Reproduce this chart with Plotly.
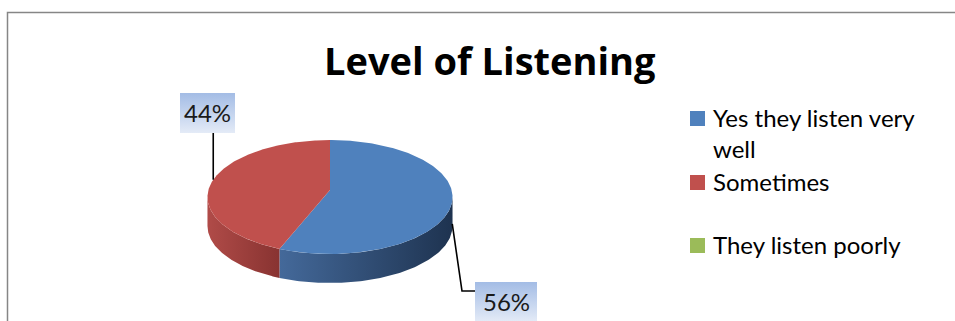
import numpy as np
import plotly.graph_objects as go

# ---- data ----
categories = ["Yes they listen very well", "Sometimes", "They listen poorly"]
legend_labels = ["Yes they listen very<br>well", "Sometimes", "They listen poorly"]
shares = [56, 44, 0]

# ---- styling ----
top_colors = ["#4F81BD", "#C0504D", "#9BBB59"]
# (left, right) shading of each slice's front wall
side_colors = [("#44699A", "#1E3350"), ("#B04B48", "#883331"), ("#7E9A48", "#5E7434")]
FONT = "Lato"

W, H = 955, 321
CX, CY = 330, 190          # pie centre (pixel-like axis units)
RX, RY = 121.6, 56.1       # ellipse radii of the tilted disc
PERSP = 0.123              # perspective strength (near half drawn larger)
DEPTH = 29                 # thickness of the 3-D disc


def project(theta_deg, drop=0.0):
    """Point on the rim of the disc at clockwise angle theta from 12 o'clock."""
    t = np.radians(theta_deg)
    u, v = np.sin(t), -np.cos(t)
    w = 1.0 / (1.0 - PERSP * v)
    return CX + RX * u * w, CY + RY * v * w + drop


# silhouette angles (where the rim is widest); the front wall lies between them
theta_r = np.degrees(np.arccos(-PERSP))
theta_l = 360.0 - theta_r

total = float(sum(shares))
spans = []
acc = 0.0
for s in shares:
    a0 = 360.0 * acc / total
    a1 = 360.0 * (acc + s) / total
    spans.append((a0, a1))
    acc += s

fig = go.Figure()

# front walls
for (a0, a1), share, (c_l, c_r) in zip(spans, shares, side_colors):
    if share <= 0:
        continue
    s, e = max(a0, theta_r), min(a1, theta_l)
    if e <= s:
        continue
    arc = np.linspace(s, e, 120)
    xt, yt = project(arc)
    xb, yb = project(arc[::-1], DEPTH)
    xs = np.concatenate([xt, xb, xt[:1]])
    ys = np.concatenate([yt, yb, yt[:1]])
    fig.add_trace(go.Scatter(
        x=xs, y=ys, mode="lines", fill="toself",
        line=dict(width=0), hoverinfo="skip", showlegend=False,
        fillgradient=dict(type="horizontal", start=float(xs.min()), stop=float(xs.max()),
                          colorscale=[[0, c_l], [1, c_r]]),
    ))

# top faces
for (a0, a1), share, col, name in zip(spans, shares, top_colors, categories):
    if share <= 0:
        continue
    arc = np.linspace(a0, a1, 240)
    xa, ya = project(arc)
    xs = np.concatenate([[CX], xa, [CX]])
    ys = np.concatenate([[CY], ya, [CY]])
    fig.add_trace(go.Scatter(
        x=xs, y=ys, mode="lines", fill="toself", fillcolor=col,
        line=dict(width=0), hoverinfo="skip", showlegend=False, name=name,
    ))

# ---- data labels with leader lines ----
label_layout = {
    # box (x0, y0, x1, y1) and the leader path from the rim anchor
    "Sometimes": dict(box=(180, 93, 235, 133), drop=0.0, elbow=None, side="up"),
    "Yes they listen very well": dict(box=(475, 282, 537, 322), drop=DEPTH * 0.8,
                                      elbow=(462, 291), side="right"),
}
for (a0, a1), share, name in zip(spans, shares, categories):
    if share <= 0 or name not in label_layout:
        continue
    lay = label_layout[name]
    ax, ay = project((a0 + a1) / 2.0, lay["drop"])
    x0, y0, x1, y1 = lay["box"]
    if lay["side"] == "up":
        lx, ly = [ax, ax], [ay, y1]
    else:
        ex, ey = lay["elbow"]
        lx, ly = [ax, ex, x0], [ay, ey, ey]
    fig.add_trace(go.Scatter(x=lx, y=ly, mode="lines",
                             line=dict(color="black", width=1.6),
                             hoverinfo="skip", showlegend=False))
    fig.add_trace(go.Scatter(
        x=[x0, x1, x1, x0, x0], y=[y0, y0, y1, y1, y0], mode="lines",
        fill="toself", line=dict(width=0), hoverinfo="skip", showlegend=False,
        fillgradient=dict(type="vertical", start=y0, stop=y1,
                          colorscale=[[0, "#A3BCE5"], [1, "#E4EBF7"]]),
    ))
    fig.add_annotation(x=(x0 + x1) / 2, y=(y0 + y1) / 2 - 1, text=f"{share}%",
                       showarrow=False, xanchor="center", yanchor="middle",
                       font=dict(family=FONT, size=24, color="#1a1a1a"))

# ---- legend ----
legend_rows = [118.5, 182.5, 245.5]
for lab, col, yc in zip(legend_labels, top_colors, legend_rows):
    fig.add_shape(type="rect", x0=690, x1=705, y0=yc - 7.5, y1=yc + 7.5,
                  xref="x", yref="y", fillcolor=col, line=dict(width=0))
    fig.add_annotation(x=711, y=yc - 18, text=lab, showarrow=False,
                       xanchor="left", yanchor="top", align="left",
                       font=dict(family=FONT, size=24, color="black"))

# ---- title ----
fig.add_annotation(x=490, y=60, text="<b>Level of Listening</b>", showarrow=False,
                   xanchor="center", yanchor="middle",
                   font=dict(family="Open Sans", size=38, color="black"))

# chart frame (right and bottom edges run past the visible area)
fig.add_shape(type="rect", x0=7.5, x1=962, y0=12.5, y1=340, xref="x", yref="y",
              line=dict(color="#868686", width=1.5), fillcolor="rgba(0,0,0,0)")

fig.update_layout(
    width=W, height=H, margin=dict(l=0, r=0, t=0, b=0),
    paper_bgcolor="white", plot_bgcolor="white", showlegend=False,
    xaxis=dict(range=[0, W], visible=False, fixedrange=True),
    yaxis=dict(range=[H, 0], visible=False, fixedrange=True),
)

fig.write_html("out.html")
